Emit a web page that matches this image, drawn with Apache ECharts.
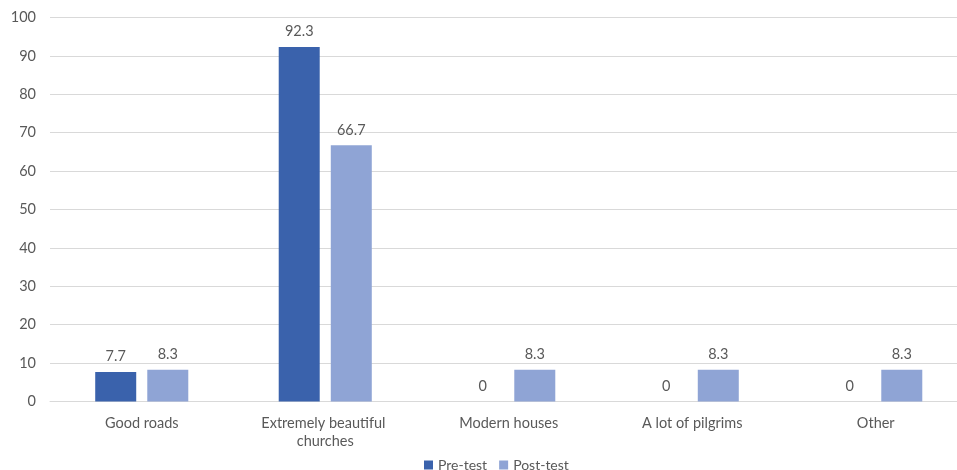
<!DOCTYPE html>
<html>
<head>
<meta charset="utf-8">
<script src="https://cdn.jsdelivr.net/npm/echarts@6/dist/echarts.min.js"></script>
<style>html,body{margin:0;padding:0;background:#fff;}#c{width:957px;height:470px;}</style>
</head>
<body>
<div id="c"></div>
<script>
const categories = ['Good roads', 'Extremely beautiful churches', 'Modern houses', 'A lot of pilgrims', 'Other'];
const preTest = [7.7, 92.3, 0, 0, 0];
const postTest = [8.3, 66.7, 8.3, 8.3, 8.3];
const yTicks = [0, 10, 20, 30, 40, 50, 60, 70, 80, 90, 100];

const font = 'Lato, "Open Sans", sans-serif';
const txt = '#595959';
const fs = 14.5;
const chart = echarts.init(document.getElementById('c'));
chart.setOption({
  animation: false,
  textStyle: { fontFamily: font },
  grid: { left: 50, width: 917.5, top: 17.5, height: 384, containLabel: false, outerBoundsMode: 'none' },
  legend: {
    left: 419, top: 453,
    itemWidth: 9, itemHeight: 9, itemGap: 12,
    icon: 'rect',
    textStyle: { color: txt, fontSize: 14, fontFamily: font },
    data: ['Pre-test', 'Post-test']
  },
  xAxis: {
    type: 'category',
    data: categories,
    axisTick: { show: false },
    axisLine: { lineStyle: { color: '#D9D9D9', width: 1 } },
    axisLabel: { color: txt, fontSize: fs, fontFamily: font, margin: 13, lineHeight: 18, width: 150, overflow: 'break', interval: 0 }
  },
  yAxis: {
    type: 'value',
    min: yTicks[0], max: yTicks[yTicks.length - 1], interval: 10,
    axisLine: { show: false }, axisTick: { show: false },
    splitLine: { lineStyle: { color: '#D9D9D9', width: 1 } },
    axisLabel: { color: txt, fontSize: fs, fontFamily: font, margin: 14 }
  },
  series: [
    {
      name: 'Pre-test', type: 'bar', data: preTest,
      barWidth: 41, barGap: '27%',
      itemStyle: { color: '#3A62AC' },
      label: { show: true, position: 'top', distance: 8, color: txt, fontSize: fs, fontFamily: font }
    },
    {
      name: 'Post-test', type: 'bar', data: postTest,
      barWidth: 41, barGap: '27%',
      itemStyle: { color: '#8FA4D5' },
      label: { show: true, position: 'top', distance: 8, color: txt, fontSize: fs, fontFamily: font }
    }
  ]
});
</script>
</body>
</html>
